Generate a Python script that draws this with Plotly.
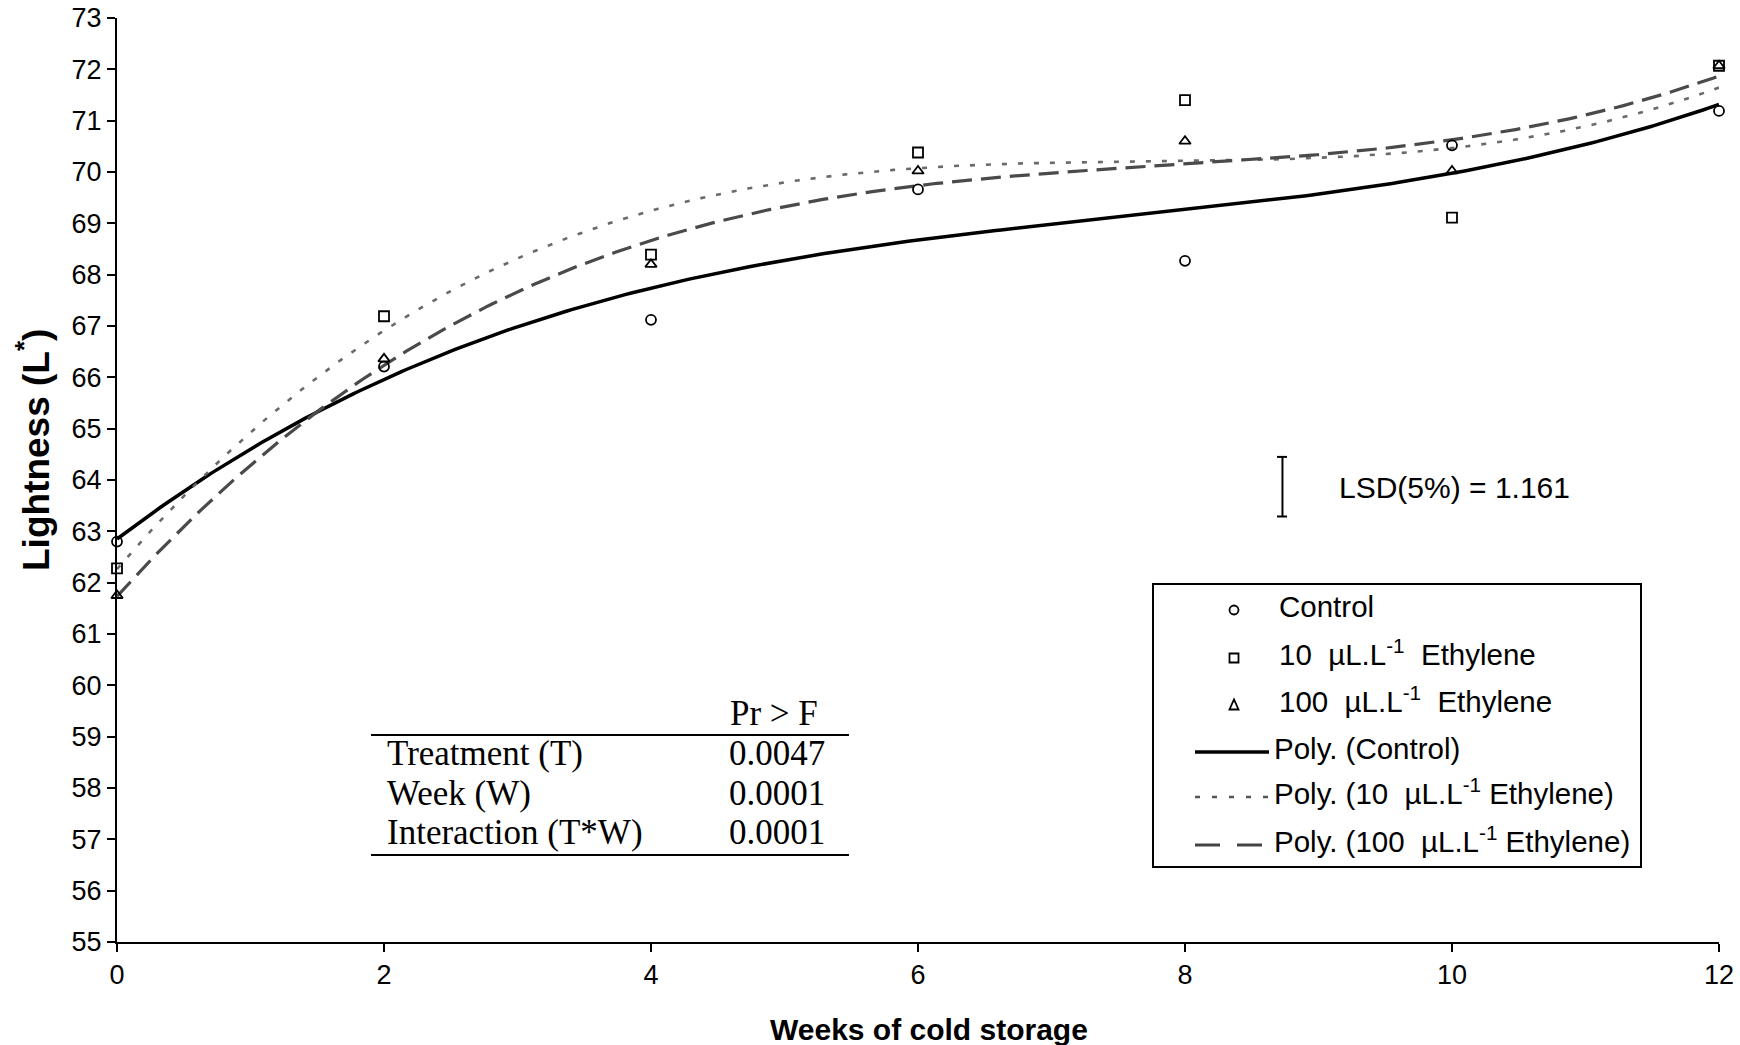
import numpy as np
import plotly.graph_objects as go

# ---------------- data ----------------
weeks = [0, 2, 4, 6, 8, 10, 12]
control = [62.80, 66.21, 67.12, 69.66, 68.27, 70.52, 71.19]
eth10 = [62.28, 67.19, 68.39, 70.38, 71.40, 69.11, 72.07]
eth100 = [61.75, 66.36, 68.20, 70.02, 70.60, 70.02, 72.07]

x_ticks = [0, 2, 4, 6, 8, 10, 12]
y_ticks = list(range(55, 74))

series_names = ["Control", "10 µL.L-1 Ethylene", "100 µL.L-1 Ethylene"]
stat_rows = ["Treatment (T)", "Week (W)", "Interaction (T*W)"]
stat_vals = ["0.0047", "0.0001", "0.0001"]
lsd_value = 1.161
lsd_top = 64.45
lsd_week = 8.73

# ---------------- geometry ----------------
W, H = 1740, 1045
L, R, T, B = 117, 21, 18, 103
PW, PH = W - L - R, H - T - B


def px(x):
    return (x - L) / PW


def py(y):
    return (H - B - y) / PH


SANS = "Liberation Sans, Arial, sans-serif"
SERIF = "Liberation Serif, Times New Roman, serif"

fig = go.Figure()

# polynomial (3rd order) trendlines, as in the original "Poly." trendlines
xs = np.linspace(0, 12, 300)
line_styles = [
    dict(color="black", width=3.5, dash="solid"),
    dict(color="#6a6a6a", width=2.6, dash="5px,11px"),
    dict(color="#4a4a4a", width=3.2, dash="20px,9px"),
]
for vals, ls in zip([control, eth10, eth100], line_styles):
    coef = np.polyfit(weeks, vals, 3)
    fig.add_trace(go.Scatter(x=xs, y=np.polyval(coef, xs), mode="lines",
                             line=ls, showlegend=False, hoverinfo="skip",
                             cliponaxis=False))

symbols = ["circle-open", "square-open", "triangle-up-open"]
for vals, sym, name in zip([control, eth10, eth100], symbols, series_names):
    fig.add_trace(go.Scatter(x=weeks, y=vals, mode="markers", name=name,
                             marker=dict(symbol=sym, size=10, color="black",
                                         line=dict(width=1.8, color="black")),
                             showlegend=False, cliponaxis=False))

shapes = []
annotations = []

# LSD bar (data coordinates)
lsd_bot = lsd_top - lsd_value
shapes.append(dict(type="line", xref="x", yref="y", x0=lsd_week, x1=lsd_week,
                   y0=lsd_bot, y1=lsd_top, line=dict(color="black", width=2)))
for yy in (lsd_bot, lsd_top):
    shapes.append(dict(type="line", xref="paper", yref="y",
                       x0=px(1277), x1=px(1287), y0=yy, y1=yy,
                       line=dict(color="black", width=2)))
annotations.append(dict(text="LSD(5%) = 1.161", x=px(1337), y=py(488),
                        xref="paper", yref="paper", xanchor="left", yanchor="middle",
                        showarrow=False, font=dict(family=SANS, size=30, color="black")))

# Legend (drawn manually)
shapes.append(dict(type="rect", xref="paper", yref="paper",
                   x0=px(1153), x1=px(1641), y0=py(867), y1=py(584),
                   line=dict(color="black", width=2), fillcolor="white", layer="below"))
row_y = [610, 658, 705, 752, 797, 845]
mx, ms = 1234, 4.5
# circle
shapes.append(dict(type="circle", xref="paper", yref="paper",
                   x0=px(mx - ms), x1=px(mx + ms), y0=py(row_y[0] + ms), y1=py(row_y[0] - ms),
                   line=dict(color="black", width=1.8)))
# square
shapes.append(dict(type="rect", xref="paper", yref="paper",
                   x0=px(mx - ms), x1=px(mx + ms), y0=py(row_y[1] + ms), y1=py(row_y[1] - ms),
                   line=dict(color="black", width=1.8)))
# triangle
ty = row_y[2]
shapes.append(dict(type="path", xref="paper", yref="paper",
                   path=f"M {px(mx - ms)} {py(ty + ms)} L {px(mx + ms)} {py(ty + ms)} L {px(mx)} {py(ty - ms - 1)} Z",
                   line=dict(color="black", width=1.8)))
# line samples
legend_dash = ["solid", "5px,12px", "25px,17px"]
legend_col = ["black", "#555555", "#444444"]
legend_w = [3.5, 2.6, 3.0]
for i in range(3):
    shapes.append(dict(type="line", xref="paper", yref="paper",
                       x0=px(1195), x1=px(1269), y0=py(row_y[3 + i]), y1=py(row_y[3 + i]),
                       line=dict(color=legend_col[i], width=legend_w[i], dash=legend_dash[i])))

nb = "\u00a0"
legend_texts = [
    "Control",
    f"10{nb}{nb}µL.L<sup>-1</sup>{nb}{nb}Ethylene",
    f"100{nb}{nb}µL.L<sup>-1</sup>{nb}{nb}Ethylene",
    "Poly. (Control)",
    f"Poly. (10{nb}{nb}µL.L<sup>-1</sup> Ethylene)",
    f"Poly. (100{nb}{nb}µL.L<sup>-1</sup> Ethylene)",
]
legend_tx = [1277, 1277, 1277, 1272, 1272, 1272]
legend_dy = [-3.5, -5.5, -5.5, -3.5, -5.5, -5.5]
for t, yy, xx, dy in zip(legend_texts, row_y, legend_tx, legend_dy):
    annotations.append(dict(text=t, x=px(xx), y=py(yy + dy), xref="paper", yref="paper",
                            xanchor="left", yanchor="middle", showarrow=False,
                            font=dict(family=SANS, size=29.5, color="black")))

# statistics table
for yy in (735, 855):
    shapes.append(dict(type="line", xref="paper", yref="paper",
                       x0=px(371), x1=px(849), y0=py(yy), y1=py(yy),
                       line=dict(color="black", width=2)))
annotations.append(dict(text="Pr &gt; F", x=px(728), y=py(713), xref="paper", yref="paper",
                        xanchor="left", yanchor="middle", showarrow=False,
                        font=dict(family=SERIF, size=35, color="black")))
for lab, val, yy in zip(stat_rows, stat_vals, [753, 793, 832]):
    annotations.append(dict(text=lab, x=px(385), y=py(yy), xref="paper", yref="paper",
                            xanchor="left", yanchor="middle", showarrow=False,
                            font=dict(family=SERIF, size=35, color="black")))
    annotations.append(dict(text=val, x=px(727), y=py(yy), xref="paper", yref="paper",
                            xanchor="left", yanchor="middle", showarrow=False,
                            font=dict(family=SERIF, size=35, color="black")))

# axis titles
annotations.append(dict(text="Lightness (L<sup>*</sup>)", x=px(33), y=py(450),
                        xref="paper", yref="paper", xanchor="center", yanchor="middle",
                        textangle=-90, showarrow=False,
                        font=dict(family=SANS, size=37, color="black", weight="bold")))
annotations.append(dict(text="Weeks of cold storage", x=px(929), y=py(1029),
                        xref="paper", yref="paper", xanchor="center", yanchor="middle",
                        showarrow=False,
                        font=dict(family=SANS, size=30, color="black", weight="bold")))

fig.update_layout(
    width=W, height=H,
    margin=dict(l=L, r=R, t=T, b=B, pad=0, autoexpand=False),
    paper_bgcolor="white", plot_bgcolor="white",
    showlegend=False,
    shapes=shapes, annotations=annotations,
    xaxis=dict(range=[0, 12], tickvals=x_ticks, ticktext=[str(v) for v in x_ticks],
               showline=True, linecolor="black", linewidth=2, mirror=False,
               ticks="outside", ticklen=8, tickwidth=2, tickcolor="black",
               showgrid=False, zeroline=False, automargin=False,
               tickfont=dict(family=SANS, size=27, color="black")),
    yaxis=dict(range=[55, 73], tickvals=y_ticks, ticktext=[str(v) for v in y_ticks],
               showline=True, linecolor="black", linewidth=2, mirror=False,
               ticks="outside", ticklen=8, tickwidth=2, tickcolor="black",
               showgrid=False, zeroline=False, automargin=False,
               tickfont=dict(family=SANS, size=27, color="black")),
)

fig.write_html("out.html")
